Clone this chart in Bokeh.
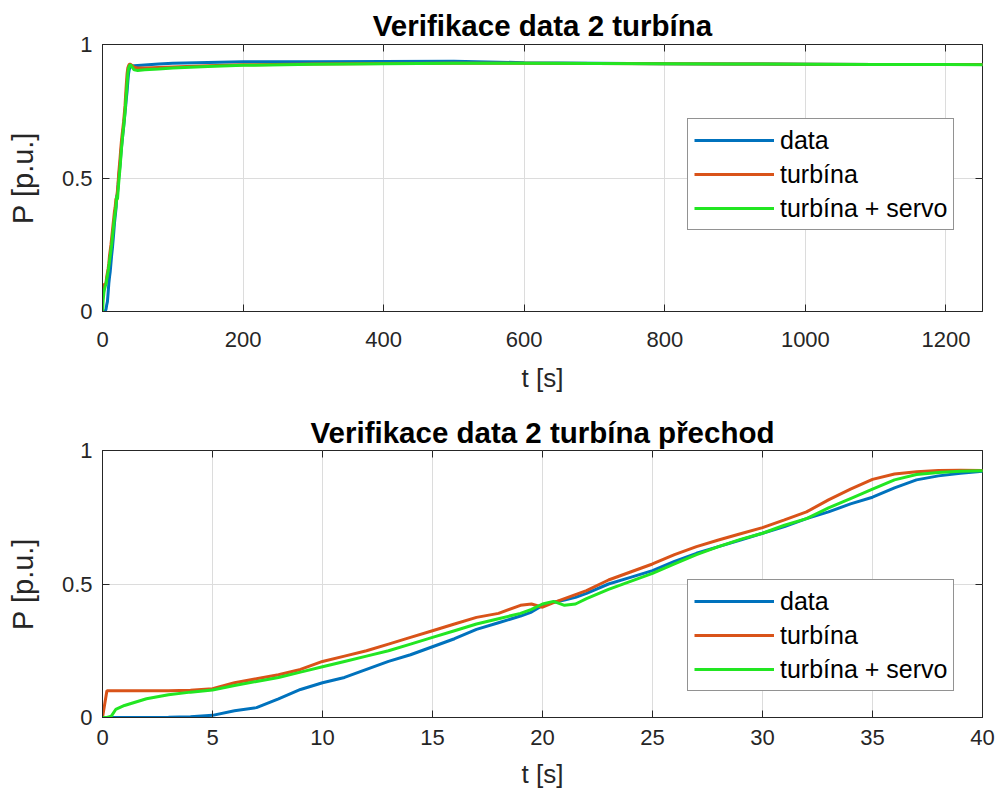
from bokeh.plotting import figure
from bokeh.layouts import column
from bokeh.models import FixedTicker, LinearAxis, Legend, LegendItem, Range1d
from bokeh.embed import file_html
from bokeh.resources import INLINE

# ---- data ----
t = [0, 0.2, 0.4, 0.6, 1, 2, 3, 4, 5, 6, 7, 8, 9, 10, 11, 12, 13, 14, 15, 16,
     17, 18, 19, 19.5, 20, 20.5, 21, 21.5, 22, 23, 24, 25, 26, 27, 28, 29, 30,
     31, 32, 33, 34, 35, 36, 37, 38, 39, 40, 45, 50, 60, 80, 100, 150, 200, 300,
     400, 500, 600, 700, 800, 900, 1000, 1100, 1200, 1260]

p_data = [0, 0, 0, 0, 0, 0, 0.001, 0.003, 0.008, 0.025, 0.037, 0.07, 0.105, 0.13,
          0.15, 0.18, 0.21, 0.235, 0.265, 0.295, 0.33, 0.355, 0.38, 0.395, 0.42,
          0.432, 0.44, 0.45, 0.465, 0.5, 0.525, 0.55, 0.585, 0.615, 0.64, 0.665,
          0.69, 0.715, 0.745, 0.77, 0.8, 0.825, 0.86, 0.89, 0.905, 0.915, 0.922,
          0.92, 0.921, 0.923, 0.927, 0.93, 0.933, 0.935, 0.935, 0.936, 0.937,
          0.932, 0.93, 0.928, 0.927, 0.926, 0.925, 0.925, 0.925]

p_turbina = [0, 0.1, 0.1, 0.1, 0.1, 0.1, 0.1, 0.102, 0.108, 0.13, 0.145, 0.16,
             0.18, 0.21, 0.23, 0.25, 0.275, 0.3, 0.325, 0.35, 0.375, 0.39, 0.42,
             0.425, 0.413, 0.43, 0.445, 0.46, 0.475, 0.515, 0.545, 0.575, 0.61,
             0.64, 0.665, 0.688, 0.711, 0.74, 0.77, 0.815, 0.855, 0.892, 0.912,
             0.92, 0.925, 0.926, 0.925, 0.915, 0.912, 0.912, 0.914, 0.916, 0.92,
             0.924, 0.927, 0.929, 0.93, 0.93, 0.929, 0.928, 0.927, 0.926, 0.925,
             0.925, 0.925]

p_servo = [0, 0, 0.005, 0.03, 0.045, 0.07, 0.085, 0.095, 0.103, 0.12, 0.135,
           0.15, 0.17, 0.19, 0.21, 0.23, 0.25, 0.275, 0.3, 0.325, 0.35, 0.37,
           0.39, 0.405, 0.425, 0.435, 0.42, 0.425, 0.445, 0.48, 0.51, 0.54, 0.575,
           0.61, 0.64, 0.667, 0.69, 0.72, 0.745, 0.785, 0.82, 0.855, 0.89, 0.91,
           0.918, 0.922, 0.924, 0.905, 0.903, 0.905, 0.908, 0.912, 0.918, 0.922,
           0.926, 0.928, 0.93, 0.93, 0.929, 0.928, 0.927, 0.926, 0.925, 0.925,
           0.924]

labels = ["data", "turbína", "turbína + servo"]
colors = ["#0072BD", "#D95319", "#22E622"]
titles = ["Verifikace data 2 turbína", "Verifikace data 2 turbína přechod"]
xticks_top = [0, 200, 400, 600, 800, 1000, 1200]
xticks_bottom = [0, 5, 10, 15, 20, 25, 30, 35, 40]
yticks = [0, 0.5, 1]

FONT = "Liberation Sans"
AX = "#262626"


def make(title, xmax, xticks, min_top, min_bottom, legend_y, title_standoff,
         tick_standoff, label_standoff):
    p = figure(frame_width=880, frame_height=267, output_backend="svg",
               toolbar_location=None, x_range=Range1d(0, xmax), y_range=Range1d(0, 1),
               min_border_left=102, min_border_right=15,
               min_border_top=min_top, min_border_bottom=min_bottom)
    p.title.text = title
    p.title.align = "center"
    p.title.text_font = FONT
    p.title.text_font_size = "29.5px"
    p.title.text_font_style = "bold"
    p.title.text_color = "#000000"
    p.title.standoff = title_standoff
    p.outline_line_color = AX
    p.outline_line_width = 1
    p.background_fill_color = "white"
    p.border_fill_color = "white"

    rends = []
    for ys, c in zip([p_data, p_turbina, p_servo], colors):
        rends.append(p.line(t, ys, line_color=c, line_width=3))

    for ax in (p.xaxis[0], p.yaxis[0]):
        ax.major_tick_in = 7
        ax.major_tick_out = 0
        ax.minor_tick_line_color = None
        ax.axis_line_color = AX
        ax.major_tick_line_color = AX
        ax.major_label_text_font = FONT
        ax.major_label_text_font_size = "22px"
        ax.major_label_text_color = AX
        ax.axis_label_text_font = FONT
        ax.axis_label_text_font_style = "normal"
        ax.axis_label_text_color = AX
    p.xaxis[0].axis_label_text_font_size = "26px"
    p.yaxis[0].axis_label_text_font_size = "29px"
    p.xaxis[0].ticker = FixedTicker(ticks=xticks)
    p.yaxis[0].ticker = FixedTicker(ticks=yticks)
    p.yaxis[0].major_label_overrides = {0: "0", 0.5: "0.5", 1: "1"}
    p.xaxis[0].axis_label = "t [s]"
    p.yaxis[0].axis_label = "P [p.u.]"
    p.xaxis[0].major_label_standoff = tick_standoff
    p.xaxis[0].axis_label_standoff = label_standoff
    p.yaxis[0].major_label_standoff = 10
    p.yaxis[0].axis_label_standoff = 20

    # box ticks on top and right (no labels)
    top = LinearAxis(ticker=FixedTicker(ticks=xticks), major_tick_in=7, major_tick_out=0,
                     minor_tick_line_color=None, axis_line_color=None,
                     major_tick_line_color=AX,
                     major_label_overrides={v: "" for v in xticks},
                     major_label_standoff=0)
    right = LinearAxis(ticker=FixedTicker(ticks=yticks), major_tick_in=7, major_tick_out=0,
                       minor_tick_line_color=None, axis_line_color=None,
                       major_tick_line_color=AX,
                       major_label_overrides={v: "" for v in yticks},
                       major_label_standoff=0)
    p.add_layout(top, "above")
    p.add_layout(right, "right")

    p.xgrid.ticker = FixedTicker(ticks=xticks)
    p.ygrid.ticker = FixedTicker(ticks=yticks)
    p.grid.grid_line_color = "#dcdcdc"
    p.grid.grid_line_width = 1

    legend = Legend(items=[LegendItem(label=l, renderers=[r]) for l, r in zip(labels, rends)],
                    location=(585, legend_y))
    legend.glyph_width = 80
    legend.glyph_height = 30
    legend.label_height = 30
    legend.spacing = 4
    legend.padding = 6
    legend.margin = 0
    legend.label_standoff = 6
    legend.label_text_font = FONT
    legend.label_text_font_size = "25px"
    legend.label_text_color = "#000000"
    legend.border_line_color = AX
    legend.border_line_width = 1
    legend.background_fill_color = "white"
    legend.background_fill_alpha = 1
    p.add_layout(legend, "center")
    return p


p1 = make(titles[0], 1252, xticks_top, 44, 89, 81, 5, 20, 13)
p2 = make(titles[1], 40, xticks_bottom, 50, 70, 26, 3, 12, 11)

layout = column(p1, p2, spacing=0)
open("out.html", "w").write(file_html(layout, INLINE))
